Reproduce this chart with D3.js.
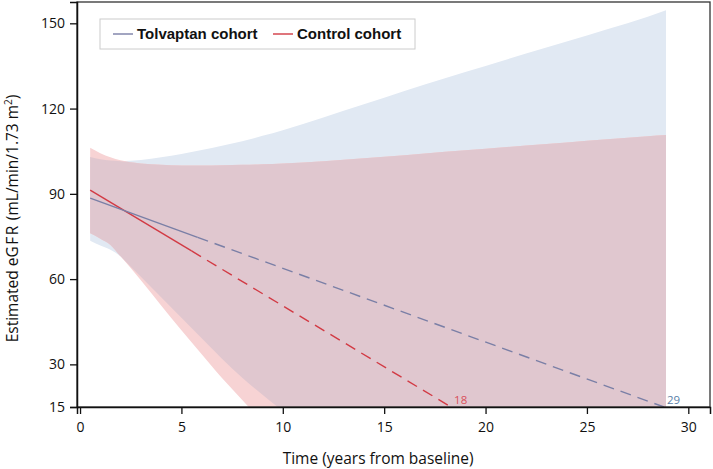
<!DOCTYPE html>
<html>
<head>
<meta charset="utf-8">
<script src="https://cdn.jsdelivr.net/npm/d3@7"></script>
<style>
  body { margin: 0; background: #fff; }
  svg { display: block; }
  .tick text { font-family: "Open Sans", sans-serif; font-size: 14px; fill: #111; }
  .axis-title { font-family: "Open Sans", sans-serif; font-size: 15.5px; fill: #111; }
  .legend-text { font-family: "Liberation Sans", Arial, sans-serif; font-size: 15px; font-weight: bold; fill: #111; }
</style>
</head>
<body>
<svg id="chart" width="713" height="469"></svg>
<script>
// time grid (years from baseline) shared by both confidence bands
const years = [0.5, 1, 1.5, 2, 3, 4, 5, 6, 7, 8, 9, 10, 12, 14, 16, 18, 20, 22, 24, 26, 28, 28.9];

const tolvUpper = [103.0, 102.2, 101.7, 101.5, 101.9, 102.9, 104.0, 105.4, 106.9, 108.5, 110.4, 112.4, 116.9, 121.5, 126.2, 130.7, 135.0, 139.4, 143.6, 147.9, 152.3, 154.6];
const tolvLower = [73.5, 71.8, 70.3, 68.0, 60.8, 53.6, 46.4, 39.2, 32.0, 25.3, 19.3, 13.6, 3, -8, -19, -30, -41, -52, -63, -74, -85, -90];

const ctrlUpper = [106.2, 104.3, 102.9, 101.8, 100.7, 100.2, 100.0, 100.0, 100.1, 100.2, 100.4, 100.7, 101.5, 102.5, 103.6, 104.8, 105.9, 107.0, 108.1, 109.2, 110.3, 110.7];
const ctrlLower = [76.1, 74.2, 72.0, 68.0, 59.6, 50.7, 42.0, 33.6, 25.2, 17.5, 9.5, 1, -15, -30, -45, -60, -75, -90, -105, -120, -135, -140];

// fitted lines: observed (solid) and projected (dashed)
const tolvSolid = [{t: 0.5, v: 88.5}, {t: 5.8, v: 74.7}];
const tolvDashed = [{t: 5.8, v: 74.7}, {t: 28.8, v: 15}];
const ctrlSolid = [{t: 0.5, v: 91.3}, {t: 5.5, v: 69.9}];
const ctrlDashed = [{t: 5.5, v: 69.9}, {t: 18.3, v: 15}];

const endLabels = [{t: 18.3, v: 15, text: '18', key: 'ctrl'}, {t: 28.8, v: 15, text: '29', key: 'tolv'}];

const xTicks = [0, 5, 10, 15, 20, 25, 30];
const yTicks = [15, 30, 60, 90, 120, 150];

const cohorts = ['Tolvaptan cohort', 'Control cohort'];

const colours = {
  tolvBand: '#e1e9f3',
  ctrlBand: '#f7d3d4',
  overlap: '#e0c7cf',
  tolvLine: '#7a7fa6',
  ctrlLine: '#d23a44',
  tolvLabel: '#5a80a8',
  ctrlLabel: '#d9505a'
};

const margin = {top: 2, right: 3, bottom: 62, left: 77};
const width = 713 - margin.left - margin.right;
const height = 469 - margin.top - margin.bottom;

const svg = d3.select('#chart');
const chart = svg.append('g')
  .attr('transform', `translate(${margin.left},${margin.top})`);

const x = d3.scaleLinear().domain([-0.15, 31.07]).range([0, width]);
const y = d3.scaleLinear().domain([15, 157.5]).range([height, 0]);

chart.append('clipPath').attr('id', 'clip')
  .append('rect').attr('width', width).attr('height', height);

const plot = chart.append('g').attr('clip-path', 'url(#clip)');

const bandData = years.map((t, i) => ({
  t: t,
  tu: tolvUpper[i], tl: tolvLower[i],
  cu: ctrlUpper[i], cl: ctrlLower[i]
}));

const area = (lo, hi) => d3.area()
  .x(d => x(d.t))
  .y0(d => y(lo(d)))
  .y1(d => y(hi(d)))
  .curve(d3.curveMonotoneX);

plot.append('path').datum(bandData)
  .attr('fill', colours.tolvBand)
  .attr('d', area(d => d.tl, d => d.tu));

plot.append('path').datum(bandData)
  .attr('fill', colours.ctrlBand)
  .attr('d', area(d => d.cl, d => d.cu));

// where both bands cover the same area
plot.append('path').datum(bandData)
  .attr('fill', colours.overlap)
  .attr('d', area(d => Math.max(d.tl, d.cl), d => Math.min(d.tu, d.cu)));

const line = d3.line().x(d => x(d.t)).y(d => y(d.v));

plot.append('path').datum(ctrlSolid)
  .attr('fill', 'none').attr('stroke', colours.ctrlLine).attr('stroke-width', 1.4)
  .attr('d', line);
plot.append('path').datum(ctrlDashed)
  .attr('fill', 'none').attr('stroke', colours.ctrlLine).attr('stroke-width', 1.4)
  .attr('stroke-dasharray', '11,7')
  .attr('d', line);
plot.append('path').datum(tolvSolid)
  .attr('fill', 'none').attr('stroke', colours.tolvLine).attr('stroke-width', 1.4)
  .attr('d', line);
plot.append('path').datum(tolvDashed)
  .attr('fill', 'none').attr('stroke', colours.tolvLine).attr('stroke-width', 1.4)
  .attr('stroke-dasharray', '11,7')
  .attr('d', line);

chart.selectAll('.end-label')
  .data(endLabels)
  .enter()
  .append('text')
    .attr('class', 'end-label')
    .attr('x', d => x(d.t) + 3)
    .attr('y', d => y(d.v) - 3)
    .style('font-family', '"Open Sans", sans-serif')
    .style('font-size', '11.5px')
    .style('fill', d => d.key === 'ctrl' ? colours.ctrlLabel : colours.tolvLabel)
    .text(d => d.text);

// frame
chart.append('rect')
  .attr('width', width).attr('height', height)
  .attr('fill', 'none').attr('stroke', '#333').attr('stroke-width', 1.3);

const xAxis = d3.axisBottom(x).tickValues(xTicks).tickSize(7).tickPadding(8);
const yAxis = d3.axisLeft(y).tickValues(yTicks).tickSize(7).tickPadding(5);

const xAxisG = chart.append('g')
  .attr('transform', `translate(0,${height})`)
  .call(xAxis);
const yAxisG = chart.append('g').call(yAxis);

[xAxisG, yAxisG].forEach(g => {
  g.select('.domain').attr('stroke', '#111').attr('stroke-width', 1.5);
  g.selectAll('.tick line').attr('stroke', '#111').attr('stroke-width', 1.3);
  g.selectAll('.tick text').attr('font-family', null).attr('font-size', null);
});

chart.append('text')
  .attr('class', 'axis-title')
  .attr('x', x(15) - 6)
  .attr('y', height + 57)
  .attr('text-anchor', 'middle')
  .text('Time (years from baseline)');

const yTitle = chart.append('text')
  .attr('class', 'axis-title')
  .attr('transform', `translate(${-59},${height / 2 + 14}) rotate(-90)`)
  .attr('text-anchor', 'middle');
yTitle.append('tspan').text('Estimated e');
yTitle.append('tspan').attr('letter-spacing', '1.5px').text('GFR');
yTitle.append('tspan').text(' (mL/min/1.73 m');
yTitle.append('tspan').attr('dy', -6).style('font-size', '10px').text('2');
yTitle.append('tspan').attr('dy', 6).text(')');

// legend
const legend = chart.append('g').attr('transform', 'translate(23,17)');
legend.append('rect')
  .attr('width', 315).attr('height', 30)
  .attr('fill', '#fff').attr('stroke', '#ccc').attr('stroke-width', 1);

const legendX = [13, 173];
const legendColour = [colours.tolvLine, colours.ctrlLine];

legend.selectAll('.legend-line')
  .data(cohorts)
  .enter()
  .append('line')
    .attr('class', 'legend-line')
    .attr('x1', (d, i) => legendX[i])
    .attr('x2', (d, i) => legendX[i] + 20)
    .attr('y1', 15).attr('y2', 15)
    .attr('stroke', (d, i) => legendColour[i])
    .attr('stroke-width', 1.4);

legend.selectAll('.legend-text')
  .data(cohorts)
  .enter()
  .append('text')
    .attr('class', 'legend-text')
    .attr('x', (d, i) => legendX[i] + 24)
    .attr('y', 15)
    .attr('dy', '0.35em')
    .text(d => d);
</script>
</body>
</html>
